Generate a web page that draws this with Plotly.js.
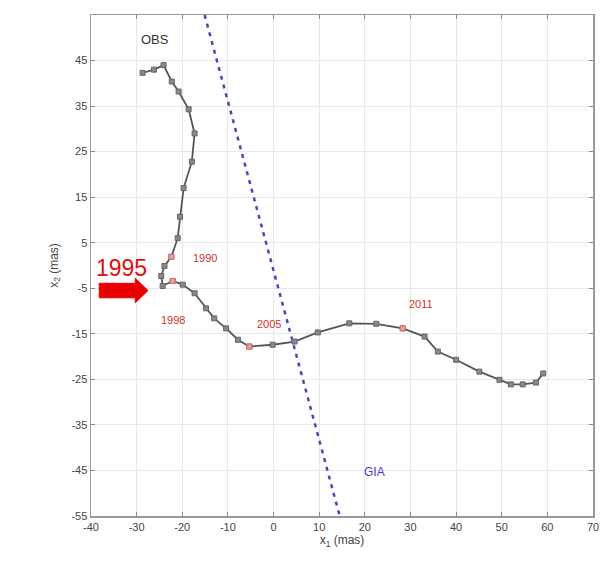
<!DOCTYPE html>
<html><head><meta charset="utf-8">
<script src="https://cdn.plot.ly/plotly-3.0.1.min.js"></script>
<style>html,body{margin:0;padding:0;background:#fff}</style>
</head><body><div id="chart" style="width:602px;height:571px"></div>
<script>
var obsX = [-28.7, -26.2, -24.1, -22.3, -20.8, -18.6, -17.3, -17.9, -19.7, -20.5, -21.0, -22.4, -23.9, -24.6, -24.3, -22.1, -19.9, -17.3, -14.8, -13.0, -10.4, -7.8, -5.3, -0.2, 4.6, 9.7, 16.6, 22.5, 28.3, 33.1, 36.0, 40.0, 45.1, 49.5, 52.0, 54.6, 57.5, 59.1];
var obsY = [42.3, 43.0, 44.0, 40.4, 38.2, 34.3, 29.0, 22.8, 17.0, 10.7, 6.0, 1.9, -0.1, -2.3, -4.5, -3.4, -4.2, -6.1, -9.4, -11.6, -13.8, -16.3, -17.8, -17.4, -16.7, -14.7, -12.7, -12.8, -13.8, -15.6, -18.9, -20.7, -23.3, -25.1, -26.1, -26.1, -25.7, -23.7];
var yearLabels = ["1990", "1998", "2005", "2011"];
var yearPointX = [-22.4, -22.1, -5.3, 28.3];
var yearPointY = [1.9, -3.4, -17.8, -13.8];
var yearTextX = [-15.1, -22.1, -0.9, 32.4];
var yearTextY = [1.6, -12.0, -12.8, -8.4];
var giaX = [-15.1, 14.5];
var giaY = [55, -55];
var xTicks = [-40, -30, -20, -10, 0, 10, 20, 30, 40, 50, 60, 70];
var yTicks = [-55, -45, -35, -25, -15, -5, 5, 15, 25, 35, 45];

var traces = [
  {x: giaX, y: giaY, mode: 'lines', line: {color: '#4848b8', width: 2.5, dash: '4px,5px'}, hoverinfo: 'skip'},
  {x: obsX, y: obsY, mode: 'lines+markers', line: {color: '#555', width: 1.8},
   marker: {symbol: 'square', size: 5, color: '#888', line: {color: '#666', width: 1}}},
  {x: yearPointX, y: yearPointY, mode: 'markers',
   marker: {symbol: 'square', size: 5, color: '#e8a0a0', line: {color: '#d07070', width: 1}}}
];

var ann = [
  {x: -26, y: 49.6, text: 'OBS', showarrow: false, font: {family: 'Liberation Sans, Arial', size: 13, color: '#333'}},
  {x: -33.3, y: -0.6, text: '1995', showarrow: false, font: {family: 'Liberation Sans, Arial', size: 23, color: '#e01010'}},
  {x: 22.1, y: -45.3, text: 'GIA', showarrow: false, font: {family: 'Liberation Sans, Arial', size: 12, color: '#4a3ad0'}}
];
for (var i = 0; i < yearLabels.length; i++) {
  ann.push({x: yearTextX[i], y: yearTextY[i], text: yearLabels[i], showarrow: false,
    font: {family: 'Liberation Sans, Arial', size: 11, color: '#d03030'}});
}

var layout = {
  width: 602, height: 571,
  margin: {l: 91, r: 9, t: 15, b: 55},
  showlegend: false,
  paper_bgcolor: '#fff', plot_bgcolor: '#fff',
  font: {family: 'Liberation Sans, Arial', size: 11, color: '#444'},
  xaxis: {range: [-40, 70], tickvals: xTicks, ticktext: xTicks.map(String), showgrid: true, gridcolor: '#e8e8e8',
    zeroline: false, showline: true, linecolor: '#999', linewidth: 1.5, mirror: 'ticks', ticks: 'inside', ticklen: 4, tickcolor: '#888',
    title: {text: 'x<sub>1</sub> (mas)', font: {size: 12, color: '#444'}, standoff: 4}},
  yaxis: {range: [-55, 55], tickvals: yTicks, ticktext: yTicks.map(String), showgrid: true, gridcolor: '#e8e8e8',
    zeroline: false, showline: true, linecolor: '#999', linewidth: 1.5, mirror: 'ticks', ticks: 'inside', ticklen: 4, tickcolor: '#888',
    title: {text: 'x<sub>2</sub> (mas)', font: {size: 12, color: '#444'}, standoff: 10}},
  annotations: ann,
  shapes: [{type: 'path', xref: 'x', yref: 'y',
    path: 'M -38.2 -3.9 L -30.3 -3.9 L -30.3 -2.8 L -27.5 -5.5 L -30.3 -8.2 L -30.3 -7.1 L -38.2 -7.1 Z',
    fillcolor: '#e80000', line: {color: '#e80000', width: 1}}]
};
Plotly.newPlot('chart', traces, layout, {displayModeBar: false, staticPlot: true});
</script></body></html>
